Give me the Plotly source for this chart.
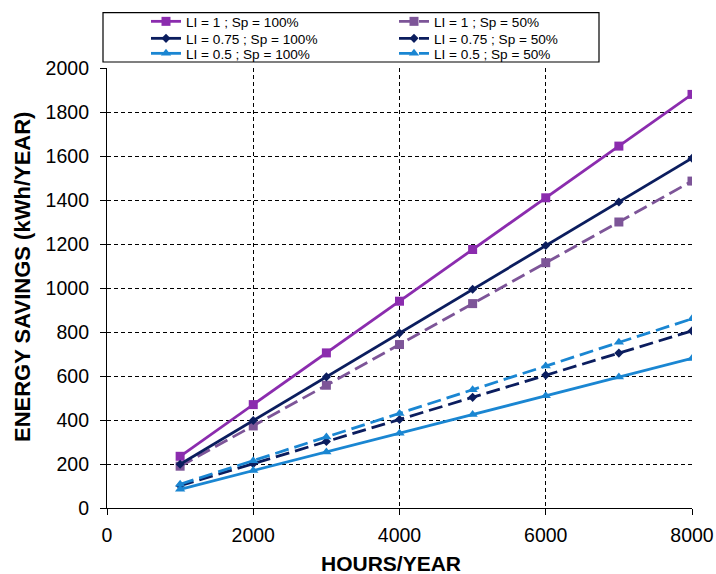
import plotly.graph_objects as go

hours = [1000, 2000, 3000, 4000, 5000, 6000, 7000, 8000]

li1_sp100 = [235, 470, 705, 940, 1175, 1410, 1645, 1880]
li1_sp50 = [190, 373, 558, 743, 929, 1115, 1300, 1486]
li075_sp100 = [199, 398, 596, 795, 994, 1193, 1391, 1590]
li075_sp50 = [101, 201, 302, 402, 503, 604, 704, 805]
li05_sp100 = [85, 170, 255, 340, 425, 510, 595, 680]
li05_sp50 = [108, 215, 323, 430, 538, 645, 753, 860]

names = ["LI = 1 ; Sp = 100%", "LI = 1 ; Sp = 50%",
         "LI = 0.75 ; Sp = 100%", "LI = 0.75 ; Sp = 50%",
         "LI = 0.5 ; Sp = 100%", "LI = 0.5 ; Sp = 50%"]

x_ticks = [0, 2000, 4000, 6000, 8000]
y_ticks = list(range(0, 2001, 200))

PURPLE = "#8b2cae"
PURPLE2 = "#7d5598"
NAVY = "#0b1d5e"
BLUE = "#1a86d2"

series = [
    (li1_sp100, PURPLE, "solid", "square", 9, "legend"),
    (li1_sp50, PURPLE2, "14px,6px", "square", 9, "legend"),
    (li075_sp100, NAVY, "solid", "diamond", 7, "legend2"),
    (li075_sp50, NAVY, "14px,6px", "diamond", 7, "legend2"),
    (li05_sp100, BLUE, "solid", "triangle-up", 9, "legend3"),
    (li05_sp50, BLUE, "14px,6px", "triangle-up", 9, "legend3"),
]

fig = go.Figure()
for name, (vals, color, dash, sym, size, leg) in zip(names, series):
    fig.add_trace(go.Scatter(
        x=hours, y=vals, name=name, mode="lines+markers",
        line=dict(color=color, width=2.8, dash=dash),
        marker=dict(symbol=sym, size=size, color=color),
        legend=leg,
    ))

FONT = "Liberation Sans, Arial, sans-serif"
L, R, T, B = 107, 24, 68, 66
W, H = 716, 574
pw = W - L - R
ph = H - T - B

def px_x(p):
    return (p - L) / pw

def px_y(p):
    return (H - B - p) / ph

def legend_row(top_px):
    return dict(
        orientation="h", xref="container", yref="container",
        x=146 / W, y=1 - top_px / H, xanchor="left", yanchor="top",
        entrywidth=203, entrywidthmode="pixels",
        font=dict(family=FONT, size=13.6, color="black"),
        bgcolor="rgba(0,0,0,0)", borderwidth=0, traceorder="normal",
    )

fig.update_layout(
    width=W, height=H,
    margin=dict(l=L, r=R, t=T, b=B, autoexpand=False),
    paper_bgcolor="white", plot_bgcolor="white",
    font=dict(family=FONT, color="black"),
    showlegend=True,
    legend=legend_row(6),
    legend2=legend_row(23),
    legend3=legend_row(38),
    xaxis=dict(
        range=[0, 8000], tickvals=x_ticks, ticktext=[str(v) for v in x_ticks],
        showgrid=True, gridcolor="black", gridwidth=1, griddash="4px,3px",
        showline=True, linecolor="black", linewidth=1.2,
        ticks="outside", ticklen=6, tickcolor="black", automargin=False,
        ticklabelstandoff=3,
        tickfont=dict(family=FONT, size=19.5), zeroline=False,
    ),
    yaxis=dict(
        range=[0, 2000], tickvals=y_ticks, ticktext=[str(v) for v in y_ticks],
        showgrid=True, gridcolor="black", gridwidth=1, griddash="4px,3px",
        showline=True, linecolor="black", linewidth=1.2,
        ticks="outside", ticklen=6, tickcolor="black", automargin=False,
        ticklabelstandoff=7,
        tickfont=dict(family=FONT, size=19.5), zeroline=False,
    ),
    shapes=[dict(
        type="rect", xref="paper", yref="paper",
        x0=px_x(103), x1=px_x(599), y0=px_y(62), y1=px_y(12.7),
        line=dict(color="black", width=1.2), fillcolor="rgba(0,0,0,0)", layer="above",
    )],
    annotations=[
        dict(text="<b>HOURS/YEAR</b>", xref="paper", yref="paper",
             x=px_x(391), y=px_y(563), xanchor="center", yanchor="middle",
             showarrow=False, font=dict(family=FONT, size=21, color="black")),
        dict(text="<b>ENERGY SAVINGS (kWh/YEAR)</b>", xref="paper", yref="paper",
             x=px_x(22), y=px_y(277), xanchor="center", yanchor="middle",
             textangle=-90, showarrow=False,
             font=dict(family=FONT, size=22, color="black")),
    ],
)

fig.write_html("out.html", config={"displayModeBar": False},
               post_script="document.body.style.margin='0';")
